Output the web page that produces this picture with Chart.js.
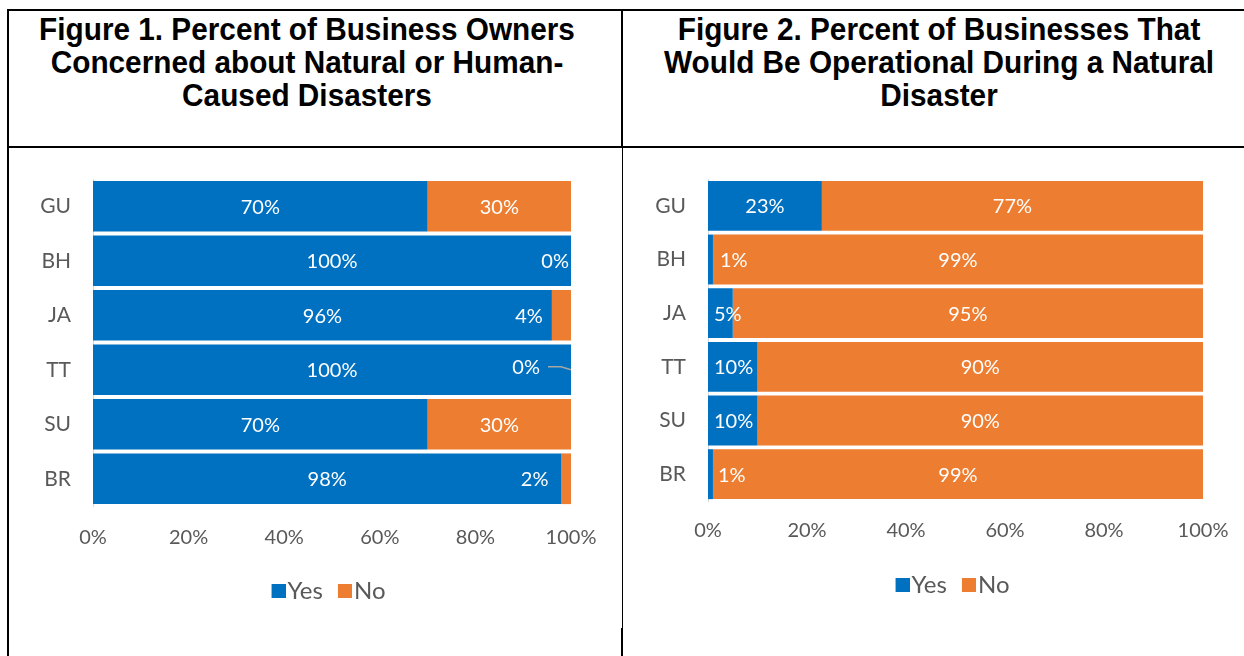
<!DOCTYPE html>
<html>
<head>
<meta charset="utf-8">
<title>Disaster preparedness of businesses</title>
<script src="https://cdn.jsdelivr.net/npm/chart.js@4.4.1/dist/chart.umd.min.js"></script>
<style>
  html, body { margin: 0; padding: 0; background: #fff; }
  body { width: 1244px; height: 656px; position: relative; overflow: hidden;
         font-family: "Liberation Sans", Arial, sans-serif; }
  .rule { position: absolute; background: #000; }
  .title { position: absolute; font-weight: bold; font-size: 32px; line-height: 33px;
           text-align: center; color: #000; white-space: nowrap;
           transform: scaleX(0.93); transform-origin: 50% 0; }
  canvas { position: absolute; }
</style>
</head>
<body>
  <!-- table frame -->
  <div class="rule" style="left:8px;top:9px;width:1236px;height:2px"></div>
  <div class="rule" style="left:7px;top:9px;width:2px;height:647px"></div>
  <div class="rule" style="left:621px;top:9px;width:2px;height:139px"></div>
  <div class="rule" style="left:8px;top:146px;width:1236px;height:2px"></div>
  <div class="rule" style="left:622px;top:148px;width:1px;height:480px"></div>
  <div class="rule" style="left:621px;top:628px;width:2px;height:28px"></div>

  <div class="title" style="left:7px;width:600px;top:13px">Figure 1. Percent of Business Owners<br>Concerned about Natural or Human-<br>Caused Disasters</div>
  <div class="title" style="left:639px;width:600px;top:13px">Figure 2. Percent of Businesses That<br>Would Be Operational During a Natural<br>Disaster</div>

  <canvas id="fig1" width="610" height="506" style="left:10px;top:150px"></canvas>
  <canvas id="fig2" width="620" height="506" style="left:624px;top:150px"></canvas>

<script>
// Countries surveyed (top to bottom)
const regions = ['GU', 'BH', 'JA', 'TT', 'SU', 'BR'];

// Figure 1: owners concerned about natural or human-caused disasters (%)
const concernedYes = [70, 100, 96, 100, 70, 98];
const concernedNo  = [30, 0, 4, 0, 30, 2];

// Figure 2: businesses that would stay operational during a natural disaster (%)
const operationalYes = [23, 1, 5, 10, 10, 1];
const operationalNo  = [77, 99, 95, 90, 90, 99];

// Percentage axis ticks
const percentTicks = [0, 20, 40, 60, 80, 100];

const BLUE = '#0070C0';
const ORANGE = '#ED7D31';
const GREY_TEXT = '#595959';

Chart.defaults.font.family = 'Lato, "Open Sans", sans-serif';
Chart.defaults.font.size = 20;
Chart.defaults.color = GREY_TEXT;

// Legend swatch: a 14px square sitting at the right of a transparent strip,
// so the legend text starts right after the square.
function swatch(color) {
  const c = document.createElement('canvas');
  c.width = 24;
  c.height = 14;
  const g = c.getContext('2d');
  g.fillStyle = color;
  g.fillRect(10, 0, 14, 14);
  return c;
}

// Writes each segment's percentage on the bar; small segments get moved aside.
const segmentLabels = {
  id: 'segmentLabels',
  afterDatasetsDraw(chart, args, opts) {
    const { ctx, chartArea } = chart;
    ctx.save();
    ctx.font = `${opts.size}px ${Chart.defaults.font.family}`;
    ctx.fillStyle = opts.color;
    ctx.textBaseline = 'middle';
    ctx.textAlign = 'left';
    chart.data.datasets.forEach((ds, di) => {
      const meta = chart.getDatasetMeta(di);
      if (meta.hidden) return;
      const placements = (opts.placement || {})[di] || {};
      meta.data.forEach((bar, i) => {
        const text = ds.data[i] + '%';
        const w = ctx.measureText(text).width;
        const place = placements[i] || { mode: 'center' };
        const lo = Math.min(bar.base, bar.x);
        const hi = Math.max(bar.base, bar.x);
        let left;
        if (place.mode === 'before') {
          left = lo - place.gap - w;
        } else if (place.mode === 'after') {
          left = hi + place.gap;
        } else {
          left = (lo + hi) / 2 - w / 2;
          left = Math.max(left, chartArea.left + opts.clamp);
          left = Math.min(left, chartArea.right - opts.clamp - w);
        }
        const y = bar.y + (place.dy || 0) + 1;
        ctx.fillText(text, left, y);
        if (place.leader) {
          ctx.save();
          ctx.strokeStyle = '#A6A6A6';
          ctx.lineWidth = 1.5;
          ctx.beginPath();
          ctx.moveTo(lo - 23, y - 1);
          ctx.lineTo(lo - 10, y - 1);
          ctx.lineTo(lo, y + 2);
          ctx.stroke();
          ctx.restore();
        }
      });
    });
    ctx.restore();
  }
};

// Slides the bottom legend sideways so it centres under the plot.
const legendOffset = {
  id: 'legendOffset',
  afterLayout(chart, args, opts) {
    const lg = chart.legend;
    if (!lg) return;
    lg.left += opts.dx;
    lg.right += opts.dx;
  }
};

function buildChart(canvasId, yesValues, noValues, frame) {
  return new Chart(document.getElementById(canvasId), {
    type: 'bar',
    data: {
      labels: regions,
      datasets: [
        { label: 'Yes', data: yesValues, backgroundColor: BLUE, borderWidth: 0, pointStyle: swatch(BLUE) },
        { label: 'No', data: noValues, backgroundColor: ORANGE, borderWidth: 0, pointStyle: swatch(ORANGE) }
      ]
    },
    options: {
      indexAxis: 'y',
      responsive: false,
      animation: false,
      devicePixelRatio: 1,
      datasets: { bar: { categoryPercentage: 1, barPercentage: 0.93 } },
      layout: { padding: frame.padding },
      scales: {
        x: {
          stacked: true,
          min: 0,
          max: 100,
          grid: { display: false, drawTicks: false },
          border: { display: false },
          afterBuildTicks: (scale) => { scale.ticks = percentTicks.map(v => ({ value: v })); },
          ticks: { padding: frame.xTickPadding, color: GREY_TEXT, callback: (v) => v + '%' },
          afterFit: (scale) => {
            scale.height = frame.xHeight;
            scale.paddingLeft = 0;
            scale.paddingRight = 0;
          }
        },
        y: {
          stacked: true,
          grid: { display: false, drawTicks: false },
          border: { display: true, color: '#D9D9D9', width: 1 },
          ticks: { padding: 22, color: GREY_TEXT, font: { size: 21 } },
          afterFit: (scale) => {
            scale.width = frame.yWidth;
            scale.paddingTop = 0;
            scale.paddingBottom = 0;
          }
        }
      },
      plugins: {
        legend: {
          position: 'bottom',
          labels: { usePointStyle: true, pointStyleWidth: 4, boxHeight: 14, padding: 15,
                    color: GREY_TEXT, font: { size: 24 } }
        },
        tooltip: { enabled: false },
        legendOffset: { dx: frame.legendDx },
        segmentLabels: { size: 20, color: '#FFFFFF', clamp: frame.clamp, placement: frame.placement }
      }
    },
    plugins: [segmentLabels, legendOffset]
  });
}

buildChart('fig1', concernedYes, concernedNo, {
  padding: { left: 0, right: 49, top: 29, bottom: 43 },
  yWidth: 83,
  xHeight: 58,
  xTickPadding: 20,
  legendDx: 38,
  clamp: 2,
  placement: {
    1: {
      2: { mode: 'before', gap: 9 },
      3: { mode: 'before', gap: 31, leader: true, dy: -3 },
      5: { mode: 'before', gap: 13 }
    }
  }
});

buildChart('fig2', operationalYes, operationalNo, {
  padding: { left: 0, right: 41, top: 29, bottom: 49 },
  yWidth: 84,
  xHeight: 57,
  xTickPadding: 18,
  legendDx: 39,
  clamp: 6,
  placement: {
    0: {
      1: { mode: 'after', gap: 7 },
      5: { mode: 'after', gap: 5 }
    }
  }
});
</script>
</body>
</html>
